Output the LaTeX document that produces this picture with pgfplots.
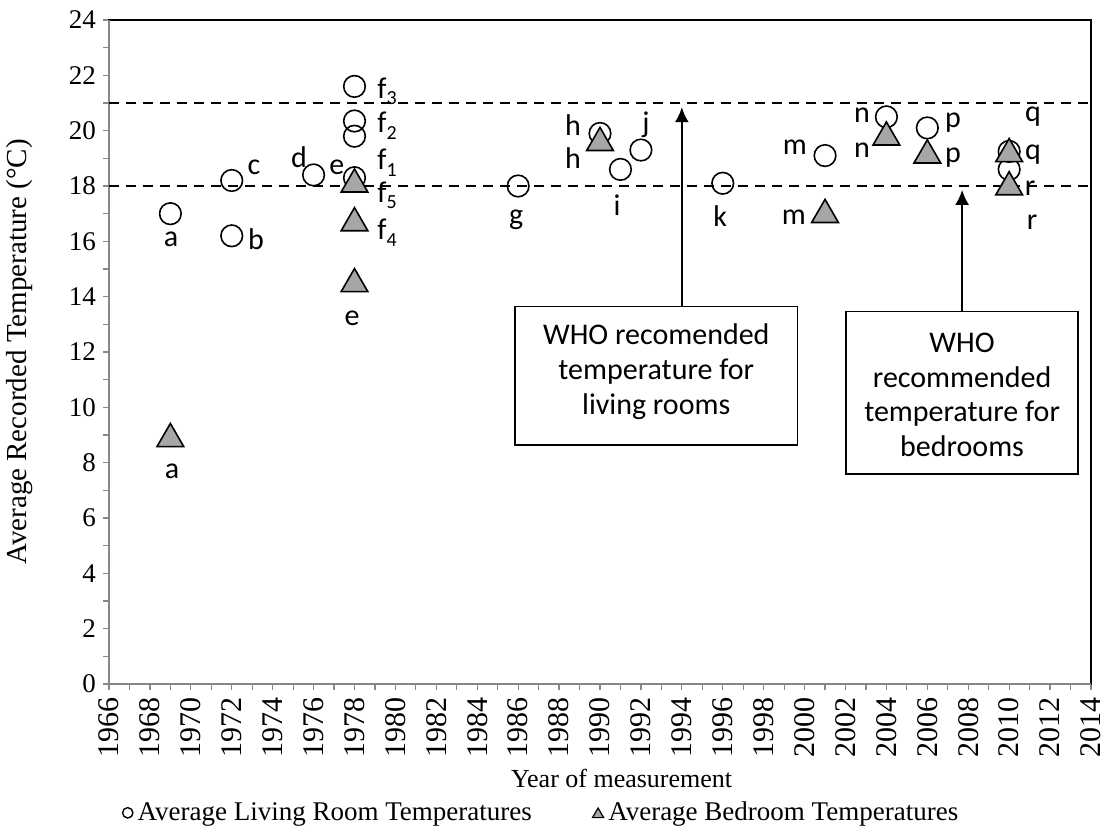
\documentclass[border=0pt]{standalone}
\usepackage{fontspec}
\setmainfont{Liberation Serif}
\newfontfamily\lab{Carlito}
\usepackage{pgfplots}
\pgfplotsset{compat=1.18}
\usetikzlibrary{arrows.meta}

\pgfdeclareplotmark{xtri}{%
  \pgfpathmoveto{\pgfqpoint{0pt}{0.75\pgfplotmarksize}}%
  \pgfpathlineto{\pgfqpoint{0.866\pgfplotmarksize}{-0.75\pgfplotmarksize}}%
  \pgfpathlineto{\pgfqpoint{-0.866\pgfplotmarksize}{-0.75\pgfplotmarksize}}%
  \pgfpathclose
  \pgfusepathqfillstroke}

\definecolor{trigray}{RGB}{166,166,166}
\definecolor{axgray}{RGB}{134,134,134}

\pgfplotstableread{
x y
1969 17.0
1972 16.2
1972 18.2
1976 18.4
1978 18.3
1978 19.8
1978 20.35
1978 21.6
1986 18.0
1990 19.9
1991 18.6
1992 19.3
1996 18.1
2001 19.1
2004 20.5
2006 20.1
2010 19.25
2010 18.6
}\living

\pgfplotstableread{
x y
1969 9.0
1978 14.6
1978 16.8
1978 18.2
1990 19.7
2001 17.1
2004 19.9
2006 19.25
2010 19.3
2010 18.1
}\bedroom

\newcommand{\lf}{\lab\fontsize{15}{15}\selectfont}
\pgfplotsset{
  livleg/.style={legend image code/.code={\draw[black, line width=0.7pt] (0.1cm,0cm) circle (2.6pt);}},
  bedleg/.style={legend image code/.code={\draw[black, fill=trigray, line width=0.6pt] (0.1cm,2.4pt) -- (0.1cm+2.8pt,-2.4pt) -- (0.1cm-2.8pt,-2.4pt) -- cycle;}},
}

\begin{document}
\begin{tikzpicture}
\begin{axis}[
  width=491pt, height=332pt, scale only axis,
  xmin=1966, xmax=2014, ymin=0, ymax=24,
  xtick distance=2, ytick distance=2,
  minor x tick num=1, minor y tick num=1,
  tick align=outside, tick pos=left,
  major tick length=3pt, minor tick length=3pt,
  every tick/.style={axgray, line width=0.6pt},
  axis line style={black, line width=0.6pt},
  /pgf/number format/assume math mode=true,
  /pgf/number format/1000 sep={},
  x tick label style={rotate=90, anchor=east, font=\fontsize{15}{15}\selectfont},
  y tick label style={font=\fontsize{13.5}{13.5}\selectfont},
  xlabel={Year of measurement},
  ylabel={Average Recorded Temperature (°C)},
  xlabel style={at={(0.522,-0.1416)}, anchor=center, font=\fontsize{13}{15}\selectfont},
  ylabel style={at={(-0.0906,0.5)}, anchor=center, font=\fontsize{14.5}{16}\selectfont},
  legend style={at={(0.441,-0.194)}, anchor=center, draw=none, fill=none,
    legend columns=2, font=\fontsize{13.5}{15}\selectfont,
    /tikz/every even column/.append style={column sep=28pt},
    inner sep=0pt},
  legend cell align=left,
  clip=false,
]
\coordinate (sw) at (rel axis cs:0,0);
\draw[axgray, line width=1pt] (rel axis cs:0,1) -- (rel axis cs:0,0) -- (rel axis cs:1,0);
\addplot[black, line width=1pt, dash pattern=on 5pt off 3.5pt, forget plot] coordinates {(1966,21) (2014,21)};
\addplot[black, line width=1pt, dash pattern=on 5pt off 3.5pt, forget plot] coordinates {(1966,18) (2014,18)};

\addplot[only marks, mark=o, mark size=5.4pt, mark options={black, line width=0.8pt}, livleg]
  table[x=x, y=y] {\living};
\addlegendentry{Average Living Room Temperatures}
\addplot[only marks, mark=xtri, mark size=7.7pt, mark options={draw=black, fill=trigray, line width=0.8pt}, bedleg]
  table[x=x, y=y] {\bedroom};
\addlegendentry{Average Bedroom Temperatures}

% arrows and boxes
\draw[-{Latex[length=7.5pt,width=7pt]}, line width=1pt] (axis cs:1994,13.64) -- (axis cs:1994,20.85);
\draw[-{Latex[length=7.5pt,width=7pt]}, line width=1pt] (axis cs:2007.7,13.46) -- (axis cs:2007.7,17.86);
\draw[line width=0.8pt, fill=white] (axis cs:1985.85,13.64) rectangle (axis cs:1999.65,8.64);
\draw[line width=0.8pt, fill=white] (axis cs:2002.01,13.46) rectangle (axis cs:2013.37,7.58);
\node[font=\lab\fontsize{15}{17.5}\selectfont, align=center] at (axis cs:1992.75,11.29)
  {WHO recomended\\temperature for\\living rooms};
\node[font=\lab\fontsize{15}{17.4}\selectfont, align=center] at (axis cs:2007.7,10.45)
  {WHO\\recommended\\temperature for\\bedrooms};

% point labels
\node[font=\lf] at (axis cs:1969.03,16.08) {a};
\node[font=\lf] at (axis cs:1969.08,7.70) {a};
\node[font=\lf] at (axis cs:1973.19,16.08) {b};
\node[font=\lf] at (axis cs:1973.09,18.69) {c};
\node[font=\lf] at (axis cs:1975.29,19.05) {d};
\node[font=\lf] at (axis cs:1977.14,18.69) {e};
\node[font=\lf] at (axis cs:1977.88,13.23) {e};
\node[font=\lf, anchor=base west, inner sep=0pt] at (axis cs:1979.1,21.18) {f\raisebox{-0.45ex}{\fontsize{10}{10}\selectfont 3}};
\node[font=\lf, anchor=base west, inner sep=0pt] at (axis cs:1979.1,19.92) {f\raisebox{-0.45ex}{\fontsize{10}{10}\selectfont 2}};
\node[font=\lf, anchor=base west, inner sep=0pt] at (axis cs:1979.1,18.58) {f\raisebox{-0.45ex}{\fontsize{10}{10}\selectfont 1}};
\node[font=\lf, anchor=base west, inner sep=0pt] at (axis cs:1979.1,17.42) {f\raisebox{-0.45ex}{\fontsize{10}{10}\selectfont 5}};
\node[font=\lf, anchor=base west, inner sep=0pt] at (axis cs:1979.1,16.05) {f\raisebox{-0.45ex}{\fontsize{10}{10}\selectfont 4}};
\node[font=\lf] at (axis cs:1985.9,16.77) {g};
\node[font=\lf] at (axis cs:1988.68,20.2) {h};
\node[font=\lf] at (axis cs:1988.68,19.01) {h};
\node[font=\lf] at (axis cs:1990.83,17.31) {i};
\node[font=\lf] at (axis cs:1992.25,20.2) {j};
\node[font=\lf] at (axis cs:1995.87,16.92) {k};
\node[font=\lf] at (axis cs:1999.53,19.41) {m};
\node[font=\lf] at (axis cs:1999.48,16.88) {m};
\node[font=\lf] at (axis cs:2002.81,20.57) {n};
\node[font=\lf] at (axis cs:2002.81,19.30) {n};
\node[font=\lf] at (axis cs:2007.26,20.28) {p};
\node[font=\lf] at (axis cs:2007.26,19.01) {p};
\node[font=\lf] at (axis cs:2011.17,20.49) {q};
\node[font=\lf] at (axis cs:2011.17,19.12) {q};
\node[font=\lf] at (axis cs:2011.02,17.93) {r};
\node[font=\lf] at (axis cs:2011.12,16.70) {r};
\end{axis}
\pgfresetboundingbox
\path (sw) ++(-54.5pt,-71.5pt) rectangle ++(553.5pt,413.5pt);
\end{tikzpicture}
\end{document}
